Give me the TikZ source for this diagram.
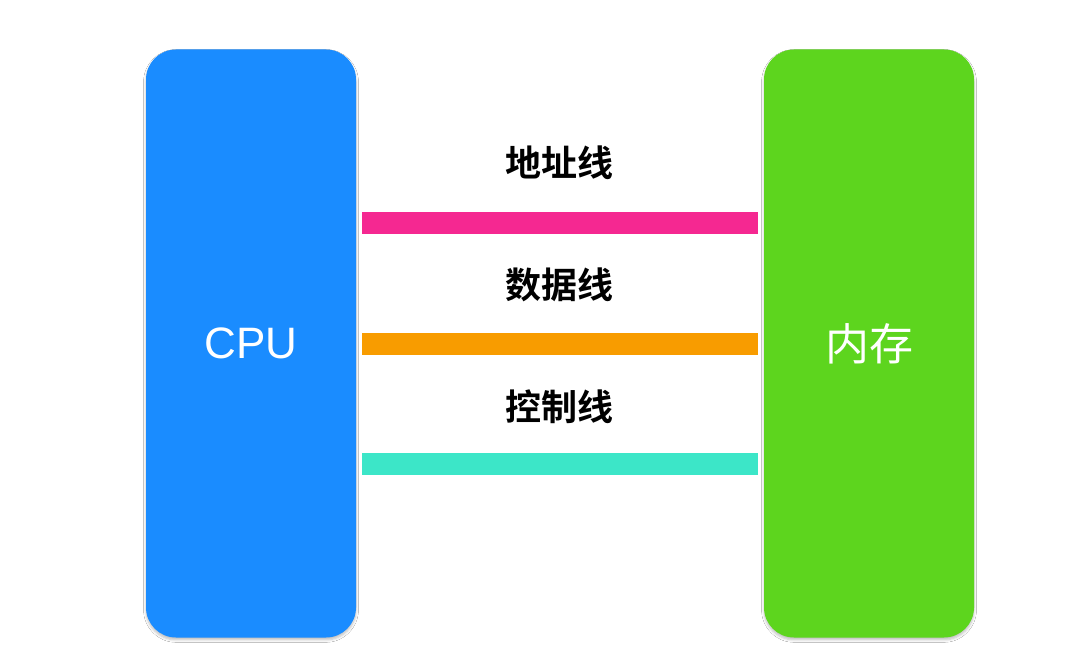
\documentclass[tikz,border=0pt]{standalone}
\usepackage{fontspec}
\setmainfont{Liberation Sans}
\newfontfamily\cjk{Noto Sans CJK SC}
\newfontfamily\cjkbold{Noto Sans CJK SC Bold}
\usetikzlibrary{shadows.blur}
\definecolor{cpublue}{RGB}{26,140,255}
\definecolor{memgreen}{RGB}{93,213,30}
\definecolor{addrpink}{RGB}{245,40,145}
\definecolor{dataorange}{RGB}{248,156,0}
\definecolor{ctrlcyan}{RGB}{60,230,200}
\begin{document}
\begin{tikzpicture}[x=0.5pt,y=-0.5pt,
  unitbox/.style={rounded corners=15pt, inner sep=0pt, minimum width=105pt, minimum height=294pt,
    blur shadow={shadow xshift=0pt, shadow yshift=-1.2pt, shadow blur steps=5, shadow opacity=25, shadow blur radius=1.2pt}},
  bus/.style={inner sep=0pt, minimum width=198pt, minimum height=11pt},
  buslabel/.style={font=\cjkbold\fontsize{18}{20}\selectfont, text=black},
]
\useasboundingbox (0,0) rectangle (1080,672);
\fill[white] (0,0) rectangle (1080,672);
\node[unitbox, fill=cpublue] (cpu) at (251,343.5) {};
\node[unitbox, fill=memgreen] (mem) at (869,343.5) {};
\node[text=white, font=\fontsize{22}{24}\selectfont] (cpulabel) at (cpu.center) {CPU};
\node[text=white, font=\cjk\fontsize{22}{24}\selectfont] (memlabel) at (mem.center) {内存};
\node[bus, fill=addrpink] (addr) at (560,223) {};
\node[bus, fill=dataorange] (data) at (560,344) {};
\node[bus, fill=ctrlcyan] (ctrl) at (560,464) {};
\node[buslabel] (addrlabel) at (559,163) {地址线};
\node[buslabel] (datalabel) at (559,285) {数据线};
\node[buslabel] (ctrllabel) at (559,407) {控制线};
\end{tikzpicture}
\end{document}
